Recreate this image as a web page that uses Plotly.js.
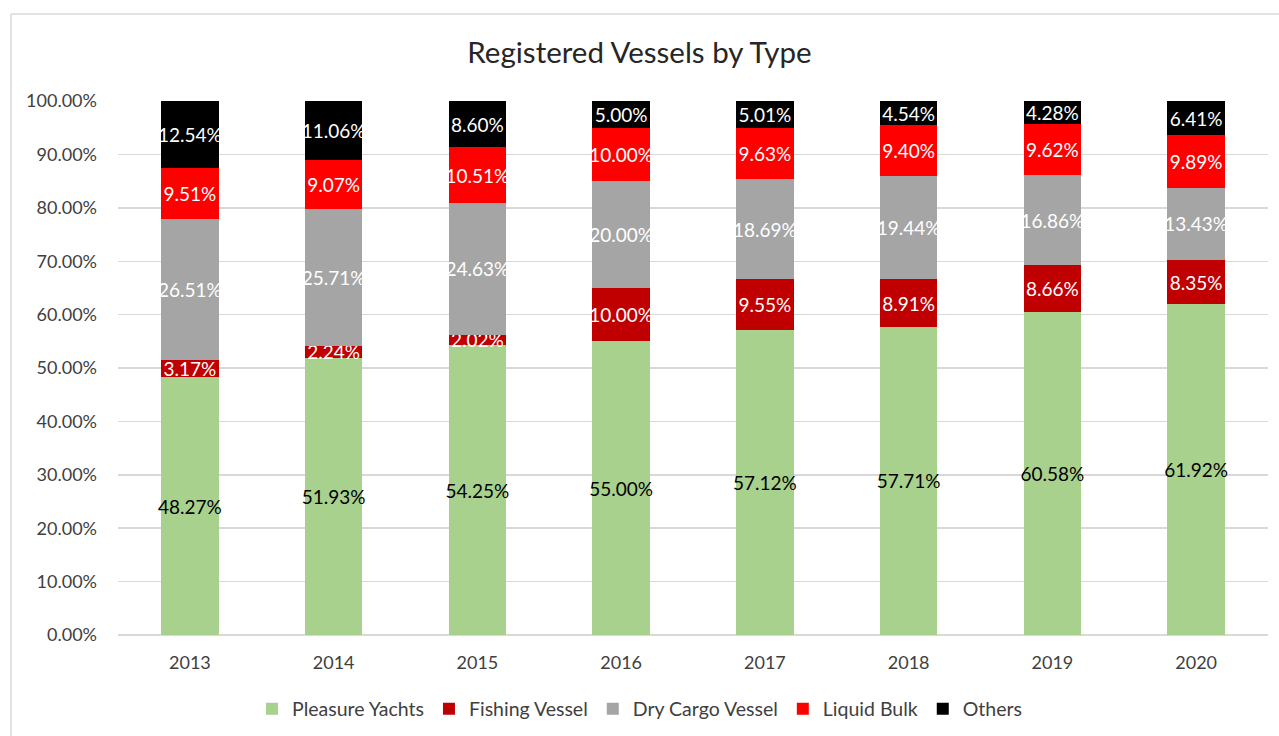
<!DOCTYPE html>
<html>
<head>
<meta charset="utf-8">
<script src="https://cdn.plot.ly/plotly-3.0.1.min.js"></script>
<style>html,body{margin:0;padding:0;background:#fff;}#chart{width:1279px;height:736px;}</style>
</head>
<body>
<div id="chart"></div>
<script>
const years = ['2013','2014','2015','2016','2017','2018','2019','2020'];
const pleasureYachts = [48.27, 51.93, 54.25, 55.00, 57.12, 57.71, 60.58, 61.92];
const fishingVessel = [3.17, 2.24, 2.02, 10.00, 9.55, 8.91, 8.66, 8.35];
const dryCargoVessel = [26.51, 25.71, 24.63, 20.00, 18.69, 19.44, 16.86, 13.43];
const liquidBulk = [9.51, 9.07, 10.51, 10.00, 9.63, 9.40, 9.62, 9.89];
const others = [12.54, 11.06, 8.60, 5.00, 5.01, 4.54, 4.28, 6.41];

const seriesNames = ['Pleasure Yachts','Fishing Vessel','Dry Cargo Vessel','Liquid Bulk','Others'];
const seriesValues = [pleasureYachts, fishingVessel, dryCargoVessel, liquidBulk, others];
const seriesColors = ['#A9D18E','#C00000','#A5A5A5','#FF0000','#000000'];
const textColors = ['#000000','#FFFFFF','#FFFFFF','#FFFFFF','#FFFFFF'];

const font = 'Lato, "Open Sans", sans-serif';

const traces = seriesNames.map((name, i) => ({
  type: 'bar',
  name: name,
  x: years,
  y: seriesValues[i].map(v => v / 100),
  text: seriesValues[i].map(v => v.toFixed(2) + '%'),
  textposition: 'inside',
  insidetextanchor: 'middle',
  constraintext: 'none',
  textangle: 0,
  cliponaxis: false,
  textfont: {family: font, size: 19, color: textColors[i]},
  marker: {color: seriesColors[i], line: {width: 0}},
  hoverinfo: 'skip'
}));

const L = 118, R = 1268, T = 101, B = 635, W = 1279, H = 736;
const pw = R - L, ph = B - T;

const layout = {
  width: W, height: H,
  barmode: 'stack',
  bargap: 0.6,
  paper_bgcolor: '#ffffff',
  plot_bgcolor: '#ffffff',
  margin: {l: L, r: W - R, t: T, b: H - B, pad: 0, autoexpand: false},
  title: {text: 'Registered Vessels by Type', font: {family: font, size: 29.5, color: '#262626'}, x: 0.5, xanchor: 'center', y: 1 - 53/H, yanchor: 'middle'},
  xaxis: {
    type: 'category',
    tickfont: {family: font, size: 18, color: '#404040'},
    showline: false, showgrid: false, zeroline: false,
    ticks: '', ticklen: 0, ticklabelstandoff: 15
  },
  yaxis: {
    range: [0, 1.0002],
    tickvals: [0,0.1,0.2,0.3,0.4,0.5,0.6,0.7,0.8,0.9,1],
    tickformat: '.2%',
    tickfont: {family: font, size: 18, color: '#404040'},
    gridcolor: '#D9D9D9', gridwidth: 1.5,
    zeroline: true, zerolinecolor: '#D9D9D9', zerolinewidth: 1.5,
    showline: false, ticks: '', ticklabelstandoff: 20
  },
  legend: {
    orientation: 'h', x: 0.5, xanchor: 'center', xref: 'container',
    y: 1 - 709 / H, yanchor: 'middle', yref: 'container',
    font: {family: font, size: 19.5, color: '#404040'},
    traceorder: 'normal'
  },
  shapes: [
    {type: 'line', xref: 'paper', yref: 'paper', x0: (11 - L)/pw, x1: (1279 - L)/pw, y0: (B - 14)/ph, y1: (B - 14)/ph, line: {color: '#D9D9D9', width: 1.5}},
    {type: 'line', xref: 'paper', yref: 'paper', x0: (11 - L)/pw, x1: (11 - L)/pw, y0: (B - 14)/ph, y1: (B - 736)/ph, line: {color: '#D9D9D9', width: 1.5}}
  ]
};

Plotly.newPlot('chart', traces, layout, {displayModeBar: false, staticPlot: true});
</script>
</body>
</html>
